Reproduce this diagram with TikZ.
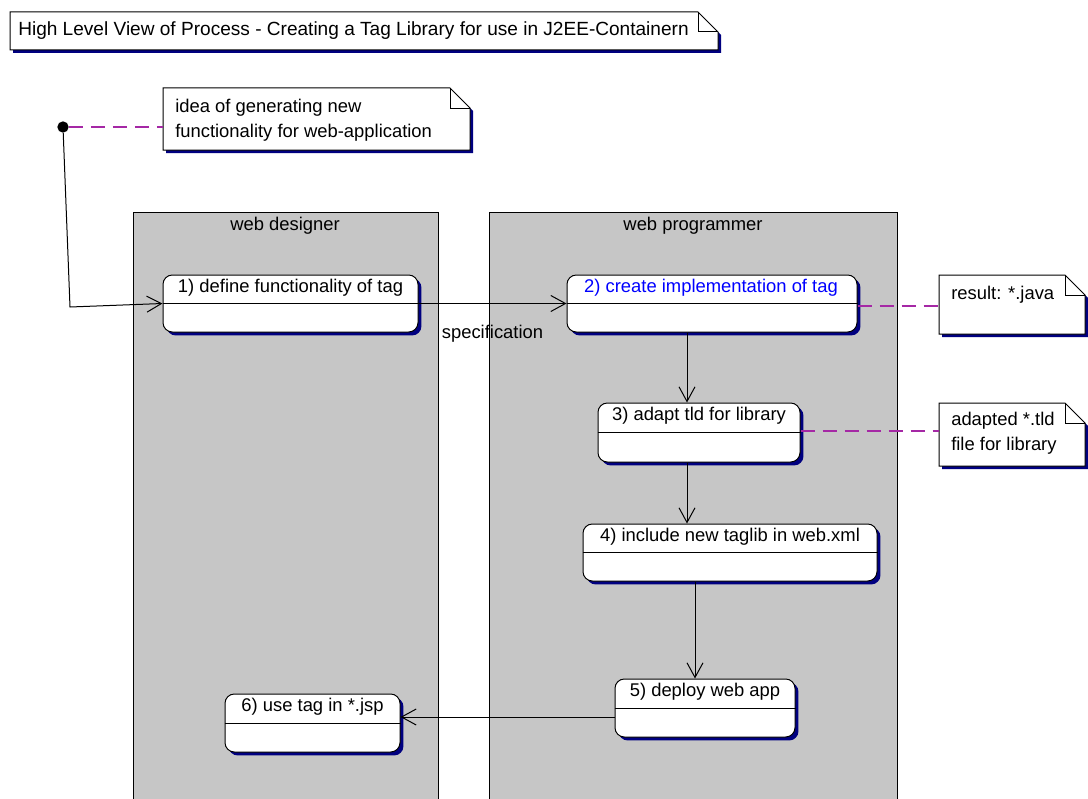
\documentclass[tikz,border=0pt]{standalone}
\usepackage{fontspec}
\setmainfont{Liberation Sans}
\usetikzlibrary{arrows.meta,fit,shadows}
\definecolor{lanegray}{RGB}{198,198,198}
\definecolor{shadowblue}{RGB}{0,0,128}
\definecolor{notemag}{RGB}{165,40,165}
\definecolor{stepblue}{RGB}{0,0,255}
\newcommand\mynote[5]{%
  \fill[shadowblue] (#2+3,#3+3) -- (#4-17,#3+3) -- (#4+3,#3+23) -- (#4+3,#5+3) -- (#2+3,#5+3) -- cycle;
  \filldraw[noteline, fill=white] (#2,#3) -- (#4-20,#3) -- (#4,#3+20) -- (#4,#5) -- (#2,#5) -- cycle;
  \draw[noteline] (#4-20,#3) -- (#4-20,#3+20) -- (#4,#3+20);
  \node[fit={(#2,#3) (#4,#5)}, inner sep=0pt] (#1) {};
}
\begin{document}
\begin{tikzpicture}[x=0.75pt,y=-0.75pt,
  txt/.style={font=\fontsize{13.8pt}{16pt}\selectfont, inner sep=0pt},
  twoline/.style={txt, anchor=west, align=left, font=\fontsize{13.8pt}{18.75pt}\selectfont},
  stepbox/.style={draw=black, fill=white, rounded corners=7pt, inner sep=0pt, line width=0.75pt,
    general shadow={fill=shadowblue, shadow xshift=2.6pt, shadow yshift=-2.6pt}},
  divider/.style={draw=black, line width=0.75pt},
  noteline/.style={draw=black, line width=0.75pt},
  flow/.style={draw=black, line width=0.75pt, -{Straight Barb[length=11pt,width=12pt,line width=0.75pt]}},
  link/.style={draw=notemag, line width=1.5pt, dash pattern=on 10.5pt off 6pt},
  lane/.style={draw=black, fill=lanegray, line width=0.75pt},
  startdot/.style={circle, fill=black, minimum size=8.5pt, inner sep=0pt},
]
\useasboundingbox (0,0) rectangle (1088,799);
\fill[white] (0,0) rectangle (1088,799);

% title note
\mynote{title}{10}{12}{718}{50}
\node[txt, anchor=west, font=\fontsize{14.3pt}{16pt}\selectfont] (titletext) at (18,31) {High Level View of Process - Creating a Tag Library for use in J2EE-Containern};

% swimlanes
\node[lane, fit={(133,212) (438,805)}, inner sep=0pt] (lane1) {};
\node[lane, fit={(489,212) (897,805)}, inner sep=0pt] (lane2) {};
\node[txt] (lane1t) at (285,226) {web designer};
\node[txt] (lane2t) at (693,226) {web programmer};

% start and idea note
\node[startdot] (start) at (63,127) {};
\mynote{n1}{163}{88}{470}{150}
\node[twoline] (n1t) at (175,120) {idea of generating new\\functionality for web-application};
\draw[link] (start) -- (n1.west |- start);

% steps
\node[stepbox, fit={(163,275) (418,332)}] (s1) {};
\node[stepbox, fit={(567,275) (857,332)}] (s2) {};
\node[stepbox, fit={(598,403) (800,462)}] (s3) {};
\node[stepbox, fit={(583,524) (877,581)}] (s4) {};
\node[stepbox, fit={(615,679) (795,737)}] (s5) {};
\node[stepbox, fit={(225,694) (400,752)}] (s6) {};
\foreach \s in {s1,s2,s3,s4,s5,s6} \draw[divider] (\s.west) -- (\s.east);
\node[txt] (s1t) at (290.5,288) {1) define functionality of tag};
\node[txt, text=stepblue] (s2t) at (711,288) {2) create implementation of tag};
\node[txt] (s3t) at (699,416) {3) adapt tld for library};
\node[txt] (s4t) at (730,537) {4) include new taglib in web.xml};
\node[txt] (s5t) at (705,692) {5) deploy web app};
\node[txt] (s6t) at (312.5,707) {6) use tag in *.jsp};

% notes right
\mynote{n2}{939}{275}{1085}{334}
\node[txt, anchor=west] (n2t) at (951,295) {result: *.java};
\mynote{n3}{939}{403}{1085}{466}
\node[twoline] (n3t) at (951,433) {adapted *.tld\\file for library};
\draw[link] ([yshift=-1.875pt]s2.east) -- ([yshift=-1.875pt]n2.west |- s2.east);
\draw[link] ([yshift=1.125pt]s3.east) -- ([yshift=1.125pt]n3.west |- s3.east);

% flows
\draw[flow] (start) -- (70,307) -- (s1.west);
\draw[flow] (s1.east) -- node[txt, yshift=-22.5pt] (spec) {specification} (s2.west);
\draw[flow] (s2.south -| 687,0) -- (s3.north -| 687,0);
\draw[flow] (s3.south -| 687,0) -- (s4.north -| 687,0);
\draw[flow] (s4.south -| 695,0) -- (s5.north -| 695,0);
\draw[flow] (s5.west |- 0,717) -- (s6.east |- 0,717);
\end{tikzpicture}
\end{document}
